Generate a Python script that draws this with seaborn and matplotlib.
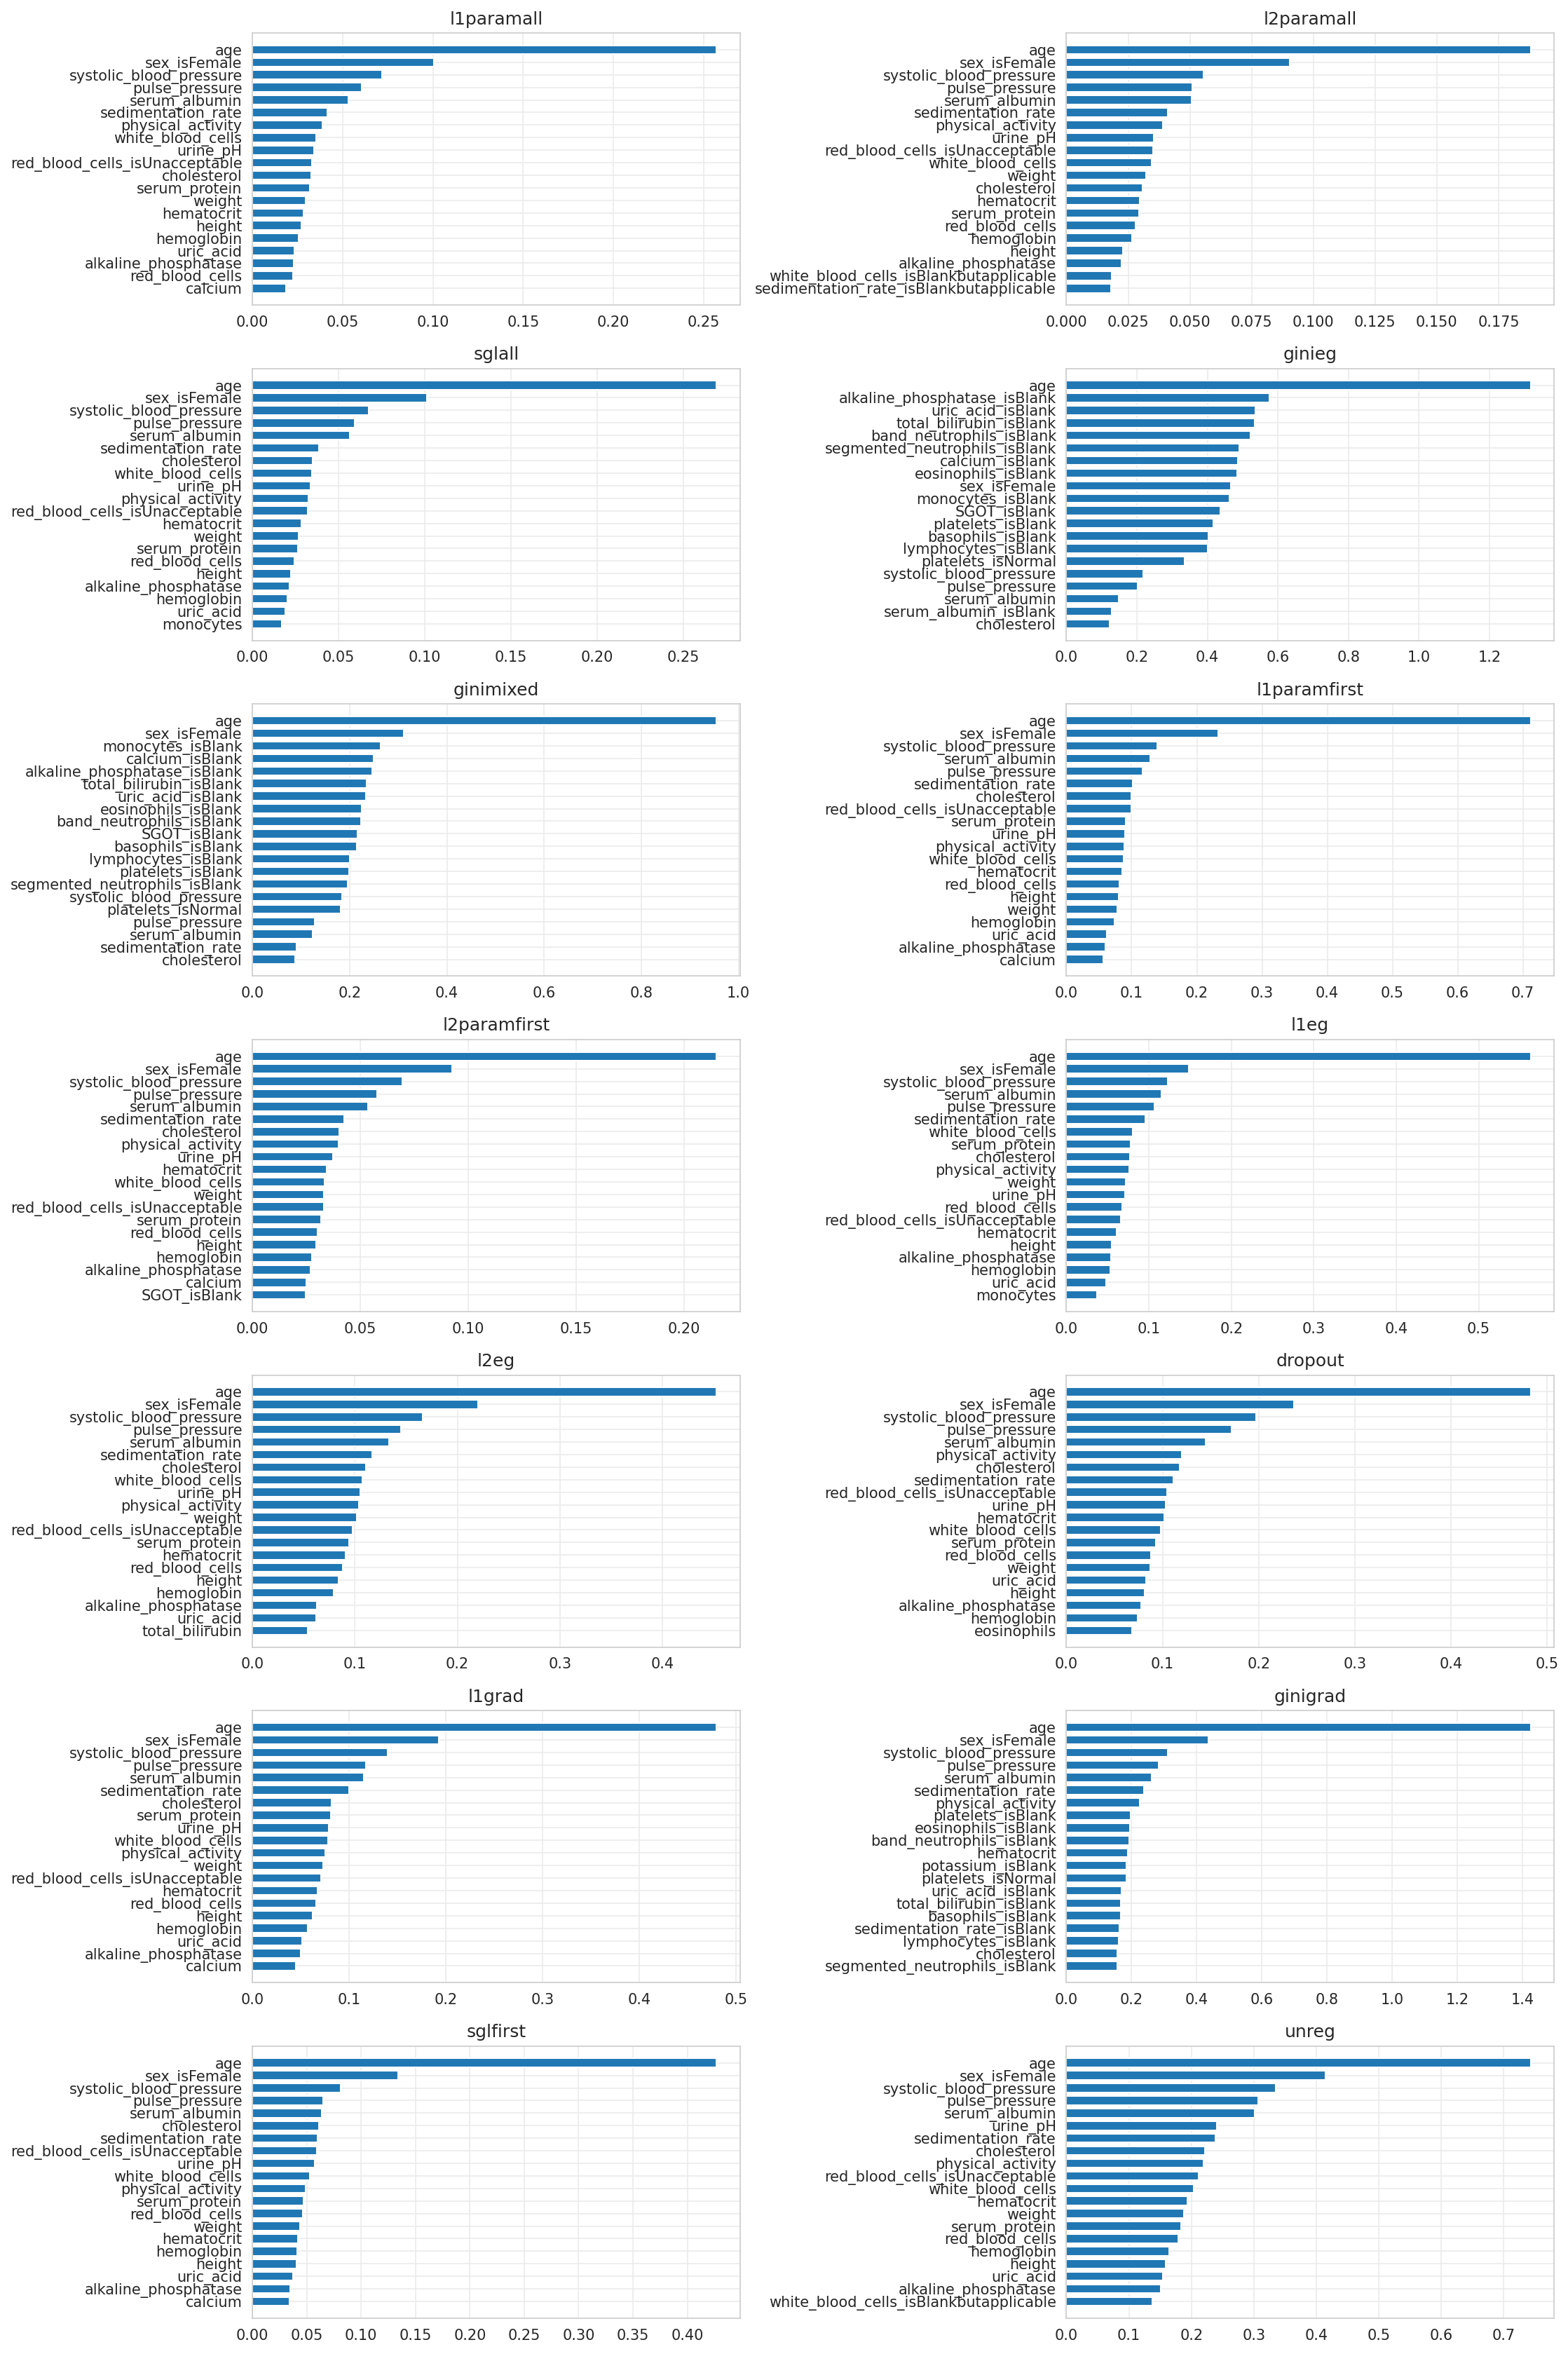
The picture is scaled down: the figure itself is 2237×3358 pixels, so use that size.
import matplotlib
matplotlib.use("Agg")
import matplotlib.pyplot as plt
import seaborn as sns

sns.set_style("whitegrid", {"grid.color": ".92"})

# feature importances per model (top 20, sorted)
l1paramall_features = ["age", "sex_isFemale", "systolic_blood_pressure", "pulse_pressure", "serum_albumin",
                       "sedimentation_rate", "physical_activity", "white_blood_cells", "urine_pH",
                       "red_blood_cells_isUnacceptable", "cholesterol", "serum_protein", "weight", "hematocrit",
                       "height", "hemoglobin", "uric_acid", "alkaline_phosphatase", "red_blood_cells", "calcium"]
l1paramall_values = [0.2572, 0.1006, 0.0717, 0.0604, 0.0533, 0.0415, 0.0387, 0.0353, 0.0340, 0.0328,
                     0.0326, 0.0318, 0.0294, 0.0283, 0.0270, 0.0255, 0.0234, 0.0228, 0.0224, 0.0187]

l2paramall_features = ["age", "sex_isFemale", "systolic_blood_pressure", "pulse_pressure", "serum_albumin",
                       "sedimentation_rate", "physical_activity", "urine_pH", "red_blood_cells_isUnacceptable",
                       "white_blood_cells", "weight", "cholesterol", "hematocrit", "serum_protein",
                       "red_blood_cells", "hemoglobin", "height", "alkaline_phosphatase",
                       "white_blood_cells_isBlankbutapplicable", "sedimentation_rate_isBlankbutapplicable"]
l2paramall_values = [0.1880, 0.0904, 0.0554, 0.0509, 0.0507, 0.0411, 0.0391, 0.0354, 0.0352, 0.0346,
                     0.0322, 0.0309, 0.0297, 0.0293, 0.0281, 0.0265, 0.0228, 0.0224, 0.0183, 0.0179]

sglall_features = ["age", "sex_isFemale", "systolic_blood_pressure", "pulse_pressure", "serum_albumin",
                   "sedimentation_rate", "cholesterol", "white_blood_cells", "urine_pH", "physical_activity",
                   "red_blood_cells_isUnacceptable", "hematocrit", "weight", "serum_protein", "red_blood_cells",
                   "height", "alkaline_phosphatase", "hemoglobin", "uric_acid", "monocytes"]
sglall_values = [0.2692, 0.1012, 0.0674, 0.0593, 0.0564, 0.0384, 0.0349, 0.0343, 0.0337, 0.0326,
                 0.0320, 0.0285, 0.0267, 0.0262, 0.0244, 0.0221, 0.0215, 0.0203, 0.0192, 0.0169]

ginieg_features = ["age", "alkaline_phosphatase_isBlank", "uric_acid_isBlank", "total_bilirubin_isBlank",
                   "band_neutrophils_isBlank", "segmented_neutrophils_isBlank", "calcium_isBlank",
                   "eosinophils_isBlank", "sex_isFemale", "monocytes_isBlank", "SGOT_isBlank", "platelets_isBlank",
                   "basophils_isBlank", "lymphocytes_isBlank", "platelets_isNormal", "systolic_blood_pressure",
                   "pulse_pressure", "serum_albumin", "serum_albumin_isBlank", "cholesterol"]
ginieg_values = [1.317, 0.576, 0.536, 0.533, 0.522, 0.490, 0.487, 0.485, 0.467, 0.462,
                 0.436, 0.416, 0.402, 0.401, 0.336, 0.217, 0.202, 0.148, 0.128, 0.123]

ginimixed_features = ["age", "sex_isFemale", "monocytes_isBlank", "calcium_isBlank", "alkaline_phosphatase_isBlank",
                      "total_bilirubin_isBlank", "uric_acid_isBlank", "eosinophils_isBlank",
                      "band_neutrophils_isBlank", "SGOT_isBlank", "basophils_isBlank", "lymphocytes_isBlank",
                      "platelets_isBlank", "segmented_neutrophils_isBlank", "systolic_blood_pressure",
                      "platelets_isNormal", "pulse_pressure", "serum_albumin", "sedimentation_rate", "cholesterol"]
ginimixed_values = [0.955, 0.311, 0.264, 0.249, 0.247, 0.235, 0.233, 0.225, 0.224, 0.216,
                    0.214, 0.200, 0.199, 0.196, 0.184, 0.181, 0.128, 0.124, 0.091, 0.088]

l1paramfirst_features = ["age", "sex_isFemale", "systolic_blood_pressure", "serum_albumin", "pulse_pressure",
                         "sedimentation_rate", "cholesterol", "red_blood_cells_isUnacceptable", "serum_protein",
                         "urine_pH", "physical_activity", "white_blood_cells", "hematocrit", "red_blood_cells",
                         "height", "weight", "hemoglobin", "uric_acid", "alkaline_phosphatase", "calcium"]
l1paramfirst_values = [0.712, 0.233, 0.139, 0.128, 0.117, 0.102, 0.100, 0.099, 0.091, 0.090,
                       0.089, 0.088, 0.085, 0.081, 0.080, 0.078, 0.074, 0.062, 0.060, 0.057]

l2paramfirst_features = ["age", "sex_isFemale", "systolic_blood_pressure", "pulse_pressure", "serum_albumin",
                         "sedimentation_rate", "cholesterol", "physical_activity", "urine_pH", "hematocrit",
                         "white_blood_cells", "weight", "red_blood_cells_isUnacceptable", "serum_protein",
                         "red_blood_cells", "height", "hemoglobin", "alkaline_phosphatase", "calcium",
                         "SGOT_isBlank"]
l2paramfirst_values = [0.2150, 0.0924, 0.0693, 0.0577, 0.0536, 0.0425, 0.0402, 0.0400, 0.0374, 0.0342,
                       0.0333, 0.0332, 0.0331, 0.0319, 0.0300, 0.0296, 0.0277, 0.0268, 0.0249, 0.0245]

l1eg_features = ["age", "sex_isFemale", "systolic_blood_pressure", "serum_albumin", "pulse_pressure",
                 "sedimentation_rate", "white_blood_cells", "serum_protein", "cholesterol", "physical_activity",
                 "weight", "urine_pH", "red_blood_cells", "red_blood_cells_isUnacceptable", "hematocrit",
                 "height", "alkaline_phosphatase", "hemoglobin", "uric_acid", "monocytes"]
l1eg_values = [0.563, 0.148, 0.123, 0.115, 0.107, 0.096, 0.080, 0.078, 0.077, 0.076,
               0.072, 0.071, 0.068, 0.066, 0.061, 0.055, 0.054, 0.053, 0.048, 0.037]

l2eg_features = ["age", "sex_isFemale", "systolic_blood_pressure", "pulse_pressure", "serum_albumin",
                 "sedimentation_rate", "cholesterol", "white_blood_cells", "urine_pH", "physical_activity",
                 "weight", "red_blood_cells_isUnacceptable", "serum_protein", "hematocrit", "red_blood_cells",
                 "height", "hemoglobin", "alkaline_phosphatase", "uric_acid", "total_bilirubin"]
l2eg_values = [0.453, 0.220, 0.166, 0.145, 0.133, 0.117, 0.111, 0.107, 0.105, 0.104,
               0.102, 0.098, 0.094, 0.091, 0.088, 0.084, 0.079, 0.063, 0.062, 0.054]

dropout_features = ["age", "sex_isFemale", "systolic_blood_pressure", "pulse_pressure", "serum_albumin",
                    "physical_activity", "cholesterol", "sedimentation_rate", "red_blood_cells_isUnacceptable",
                    "urine_pH", "hematocrit", "white_blood_cells", "serum_protein", "red_blood_cells", "weight",
                    "uric_acid", "height", "alkaline_phosphatase", "hemoglobin", "eosinophils"]
dropout_values = [0.483, 0.237, 0.197, 0.172, 0.145, 0.120, 0.118, 0.111, 0.105, 0.103,
                  0.102, 0.098, 0.093, 0.088, 0.087, 0.083, 0.081, 0.078, 0.074, 0.068]

l1grad_features = ["age", "sex_isFemale", "systolic_blood_pressure", "pulse_pressure", "serum_albumin",
                   "sedimentation_rate", "cholesterol", "serum_protein", "urine_pH", "white_blood_cells",
                   "physical_activity", "weight", "red_blood_cells_isUnacceptable", "hematocrit",
                   "red_blood_cells", "height", "hemoglobin", "uric_acid", "alkaline_phosphatase", "calcium"]
l1grad_values = [0.480, 0.193, 0.140, 0.117, 0.115, 0.100, 0.082, 0.081, 0.079, 0.078,
                 0.075, 0.073, 0.071, 0.067, 0.066, 0.062, 0.057, 0.051, 0.050, 0.045]

ginigrad_features = ["age", "sex_isFemale", "systolic_blood_pressure", "pulse_pressure", "serum_albumin",
                     "sedimentation_rate", "physical_activity", "platelets_isBlank", "eosinophils_isBlank",
                     "band_neutrophils_isBlank", "hematocrit", "potassium_isBlank", "platelets_isNormal",
                     "uric_acid_isBlank", "total_bilirubin_isBlank", "basophils_isBlank",
                     "sedimentation_rate_isBlank", "lymphocytes_isBlank", "cholesterol",
                     "segmented_neutrophils_isBlank"]
ginigrad_values = [1.425, 0.435, 0.311, 0.284, 0.262, 0.237, 0.225, 0.197, 0.194, 0.193,
                   0.188, 0.185, 0.184, 0.170, 0.167, 0.166, 0.163, 0.160, 0.157, 0.156]

sglfirst_features = ["age", "sex_isFemale", "systolic_blood_pressure", "pulse_pressure", "serum_albumin",
                     "cholesterol", "sedimentation_rate", "red_blood_cells_isUnacceptable", "urine_pH",
                     "white_blood_cells", "physical_activity", "serum_protein", "red_blood_cells", "weight",
                     "hematocrit", "hemoglobin", "height", "uric_acid", "alkaline_phosphatase", "calcium"]
sglfirst_values = [0.427, 0.134, 0.081, 0.065, 0.064, 0.061, 0.060, 0.0595, 0.057, 0.053,
                   0.049, 0.047, 0.046, 0.044, 0.042, 0.041, 0.0405, 0.037, 0.035, 0.034]

unreg_features = ["age", "sex_isFemale", "systolic_blood_pressure", "pulse_pressure", "serum_albumin", "urine_pH",
                  "sedimentation_rate", "cholesterol", "physical_activity", "red_blood_cells_isUnacceptable",
                  "white_blood_cells", "hematocrit", "weight", "serum_protein", "red_blood_cells", "hemoglobin",
                  "height", "uric_acid", "alkaline_phosphatase", "white_blood_cells_isBlankbutapplicable"]
unreg_values = [0.743, 0.415, 0.335, 0.307, 0.301, 0.241, 0.238, 0.222, 0.219, 0.212,
                0.204, 0.193, 0.188, 0.183, 0.179, 0.164, 0.159, 0.154, 0.151, 0.137]

panels = [
    ("l1paramall", l1paramall_features, l1paramall_values),
    ("l2paramall", l2paramall_features, l2paramall_values),
    ("sglall", sglall_features, sglall_values),
    ("ginieg", ginieg_features, ginieg_values),
    ("ginimixed", ginimixed_features, ginimixed_values),
    ("l1paramfirst", l1paramfirst_features, l1paramfirst_values),
    ("l2paramfirst", l2paramfirst_features, l2paramfirst_values),
    ("l1eg", l1eg_features, l1eg_values),
    ("l2eg", l2eg_features, l2eg_values),
    ("dropout", dropout_features, dropout_values),
    ("l1grad", l1grad_features, l1grad_values),
    ("ginigrad", ginigrad_features, ginigrad_values),
    ("sglfirst", sglfirst_features, sglfirst_values),
    ("unreg", unreg_features, unreg_values),
]

fig, axes = plt.subplots(7, 2, figsize=(2237 / 150, 3358 / 150), dpi=150)

for ax, (name, feats, vals) in zip(axes.flat, panels):
    sns.barplot(x=vals, y=feats, orient="h", color="#1f77b4", saturation=1,
                width=0.7, errorbar=None, ax=ax)
    # same limits as a plain barh with 5% margins
    n = len(feats)
    pad = 0.05 * (n - 1 + 0.7)
    ax.set_ylim(n - 1 + 0.35 + pad, -0.35 - pad)
    ax.yaxis.grid(True)
    ax.xaxis.grid(True)
    ax.set_title(name)
    ax.set_xlabel("")
    ax.set_ylabel("")

fig.subplots_adjust(left=0.161, right=0.991, top=0.986, bottom=0.0152, wspace=0.67, hspace=0.233)
fig.savefig("out.png", dpi=150)
